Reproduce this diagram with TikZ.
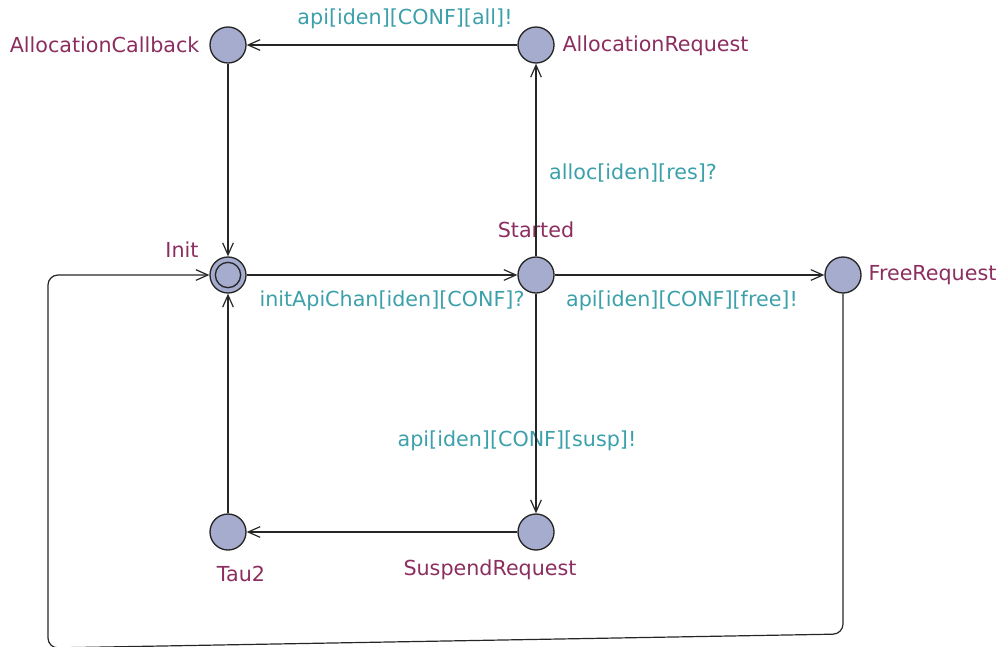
\documentclass[tikz,border=0pt]{standalone}
\usepackage{fontspec}
\setmainfont{DejaVu Sans}
\usepackage{xcolor}
\usepackage{tikz}
\usetikzlibrary{arrows.meta,positioning}
\definecolor{locname}{RGB}{140,45,95}
\definecolor{synclabel}{RGB}{60,160,170}
\definecolor{locfill}{RGB}{165,172,205}

\begin{document}
\begin{tikzpicture}[x=0.75pt, y=-0.75pt, every node/.style={font=\fontsize{15.5}{18}\selectfont},
		loc/.style={circle, draw=black!85, fill=locfill, line width=1pt, minimum size=27pt, inner sep=0pt},
		locnm/.style={text=locname, inner sep=1pt},
		syncnm/.style={text=synclabel, inner sep=1pt},
		edge/.style={-{Straight Barb[length=9pt,width=8pt]}, line width=0.9pt, black!85}]
				\useasboundingbox (0,0) rectangle (1005,646);
				\node[loc] (callback) at (228,45) {};
				\node[loc] (request) at (536,45) {};
				\node[loc] (init) at (228,275) {};
				\node[circle, draw=black!85, line width=1pt, minimum size=19pt, inner sep=0pt] (initin) at (init) {};
				\node[loc] (started) at (536,275) {};
				\node[loc] (free) at (843,275) {};
				\node[loc] (tau) at (228,532) {};
				\node[loc] (suspend) at (536,532) {};
				\node[locnm, anchor=east] (ncallback) at (201,45) {AllocationCallback};
				\node[locnm, anchor=west] (nrequest) at (561,46) {AllocationRequest};
				\node[locnm] (ninit) at (182,250) {Init};
				\node[locnm] (nstarted) at (536,230) {Started};
				\node[locnm, anchor=west] (nfree) at (867,275) {FreeRequest};
				\node[locnm] (ntau) at (241,574) {Tau2};
				\node[locnm] (nsuspend) at (490,570) {SuspendRequest};
				\node[syncnm] (sall) at (405,19) {api[iden][CONF][all]!};
				\node[syncnm] (salloc) at (633,173) {alloc[iden][res]?};
				\node[syncnm] (sinit) at (392,301) {initApiChan[iden][CONF]?};
				\node[syncnm] (sfree) at (682,301) {api[iden][CONF][free]!};
				\node[syncnm] (ssusp) at (517,441) {api[iden][CONF][susp]!};
				\draw[edge] (request) -- (callback);
				\draw[edge] (callback) -- (init);
				\draw[edge] (init) -- (started);
				\draw[edge] (started) -- (request);
				\draw[edge] (started) -- (free);
				\draw[edge] (started) -- (suspend);
				\draw[edge] (suspend) -- (tau);
				\draw[edge] (tau) -- (init);
				% return from FreeRequest round the bottom
				\coordinate (br) at (843,634);
				\coordinate (bl) at (48,648);
				\coordinate (tl) at (48,275);
				\draw[edge, rounded corners=7.5pt] (free) -- (br) -- (bl) -- (tl) -- (init);
			\end{tikzpicture}
\end{document}
